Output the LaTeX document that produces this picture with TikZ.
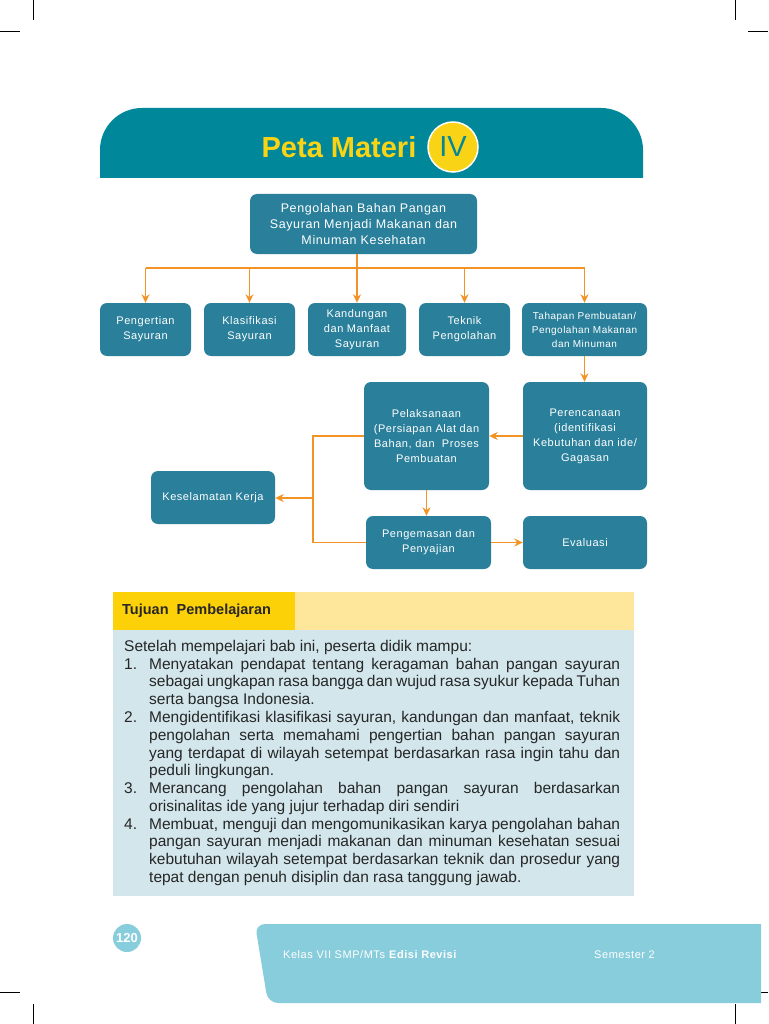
\documentclass[tikz,border=0pt]{standalone}
\usepackage{fontspec}
\setmainfont{Liberation Sans}
\newfontfamily\petafont[LetterSpace=5]{Liberation Sans}
\usetikzlibrary{arrows.meta,calc}
\definecolor{tealjudul}{HTML}{00889A}
\definecolor{tealkotak}{HTML}{2A809B}
\definecolor{oranye}{HTML}{F39325}
\definecolor{kuning}{HTML}{F9D316}
\definecolor{kuningtua}{HTML}{FDD107}
\definecolor{kuningmuda}{HTML}{FEE79B}
\definecolor{birumuda}{HTML}{D2E6EC}
\definecolor{birukaki}{HTML}{88CDDC}
\definecolor{teksisi}{HTML}{262626}
\newcommand{\butir}[1]{\noindent\hangindent=25pt\hangafter=1\makebox[25pt][l]{#1}}

\begin{document}
\begin{tikzpicture}[x=1pt, y=-1pt, >={Stealth[length=8.5pt,width=8pt]},
  every node/.style={inner sep=0pt},
  kotak/.style={fill=tealkotak, rounded corners=7pt, text=white, align=center,
    font=\petafont\fontsize{11}{15}\selectfont},
  garis/.style={draw=oranye, line width=1.6pt},
  panah/.style={garis, ->}]
\fill[white] (0,0) rectangle (768,1024);
\useasboundingbox (0,0) rectangle (768,1024);
\foreach \x in {33,735} {\draw[line width=1pt] (\x,0) -- (\x,20); \draw[line width=1pt] (\x,1004) -- (\x,1024);}
\foreach \y in {32,992} {\draw[line width=1pt] (0,\y) -- (20,\y); \draw[line width=1pt] (748,\y) -- (768,\y);}

\begin{scope}
\clip (90,100) rectangle (660,178);
\fill[tealjudul, rounded corners=42pt] (100,108) rectangle (643,260);
\end{scope}
\node[text=kuning, font=\bfseries\fontsize{29}{32}\selectfont] (judul) at (339,147) {Peta Materi};
\node[circle, fill=kuning, draw=white, line width=1.5pt, minimum size=50pt,
  text=tealjudul, font=\fontsize{29}{32}\selectfont] (bab) at (453,147) {IV};

\node[kotak, minimum width=227pt, minimum height=60pt, font=\petafont\fontsize{12.5}{16}\selectfont]
  (utama) at (363.5,224) {Pengolahan Bahan Pangan\\Sayuran Menjadi Makanan dan\\Minuman Kesehatan};
\node[kotak, minimum width=91pt, minimum height=53pt] (pengertian) at (145.5,329.5) {Pengertian\\Sayuran};
\node[kotak, minimum width=91pt, minimum height=53pt] (klasifikasi) at (249.5,329.5) {Klasifikasi\\Sayuran};
\node[kotak, minimum width=98pt, minimum height=53pt] (kandungan) at (357,329.5) {Kandungan\\dan Manfaat\\Sayuran};
\node[kotak, minimum width=91pt, minimum height=53pt] (teknik) at (464.5,329.5) {Teknik\\Pengolahan};
\node[kotak, minimum width=125pt, minimum height=53pt, font=\petafont\fontsize{10}{14}\selectfont]
  (tahapan) at (584.5,329.5) {Tahapan Pembuatan/\\Pengolahan Makanan\\dan Minuman};
\node[kotak, minimum width=124pt, minimum height=108pt] (perencanaan) at (585,436)
  {Perencanaan\\(identifikasi\\Kebutuhan dan ide/\\Gagasan};
\node[kotak, minimum width=125pt, minimum height=108pt] (pelaksanaan) at (426.5,436)
  {Pelaksanaan\\(Persiapan Alat dan\\Bahan, dan\ \ Proses\\Pembuatan};
\node[kotak, minimum width=125pt, minimum height=53pt] (pengemasan) at (428.5,542.5) {Pengemasan dan\\Penyajian};
\node[kotak, minimum width=124pt, minimum height=53pt] (evaluasi) at (585,542.5) {Evaluasi};
\node[kotak, minimum width=124pt, minimum height=53pt] (keselamatan) at (213,497.5) {Keselamatan Kerja};

\coordinate (rel) at (357,268);
\coordinate (siku) at (313,498);
\draw[garis] (rel -| pengertian.north) -- (rel -| tahapan.north);
\draw[panah] (utama.south -| kandungan.north) -- (kandungan.north);
\foreach \n in {pengertian,klasifikasi,teknik,tahapan} \draw[panah] (rel -| \n.north) -- (\n.north);
\draw[panah] (tahapan.south) -- (tahapan.south |- perencanaan.north);
\draw[panah] (perencanaan.west) -- (perencanaan.west -| pelaksanaan.east);
\draw[panah] (pelaksanaan.south) -- (pelaksanaan.south |- pengemasan.north);
\draw[panah] (pengemasan.east) -- (pengemasan.east -| evaluasi.west);
\draw[garis] (pelaksanaan.west) -- (siku |- pelaksanaan.west) -- (siku |- pengemasan.west) -- (pengemasan.west);
\draw[panah] (siku) -- (siku -| keselamatan.east);

\fill[birumuda] (113,630) rectangle (634,896);
\fill[kuningmuda] (113,592) rectangle (634,630);
\fill[kuningtua] (113,592) rectangle (295,630);
\node[anchor=west, text=teksisi, font=\bfseries\fontsize{14.5}{17}\selectfont] (tujuan) at (122,611)
  {Tujuan\ \ Pembelajaran};
\node[anchor=north west, text width=496pt, align=justify, text=teksisi,
  font=\fontsize{15.5}{17.77}\selectfont] (isi) at (124,640)
  {\noindent Setelah mempelajari bab ini, peserta didik mampu:\par
  \butir{1.}Menyatakan pendapat tentang keragaman bahan pangan sayuran\linebreak
  sebagai ungkapan rasa bangga dan wujud rasa syukur kepada Tuhan\linebreak
  serta bangsa Indonesia.\par
  \butir{2.}Mengidentifikasi klasifikasi sayuran, kandungan dan manfaat, teknik\linebreak
  pengolahan serta memahami pengertian bahan pangan sayuran\linebreak
  yang terdapat di wilayah setempat berdasarkan rasa ingin tahu dan\linebreak
  peduli lingkungan.\par
  \butir{3.}Merancang pengolahan bahan pangan sayuran berdasarkan\linebreak
  orisinalitas ide yang jujur terhadap diri sendiri\par
  \butir{4.}Membuat, menguji dan mengomunikasikan karya pengolahan bahan\linebreak
  pangan sayuran menjadi makanan dan minuman kesehatan sesuai\linebreak
  kebutuhan wilayah setempat berdasarkan teknik dan prosedur yang\linebreak
  tepat dengan penuh disiplin dan rasa tanggung jawab.\par};

\fill[birukaki, rounded corners=10pt] (761,924) -- (255,924) -- (268,1003) -- (761,1003);
\node[circle, fill=birukaki, minimum size=28pt, text=white, font=\bfseries\fontsize{13}{15}\selectfont]
  (halaman) at (127,938) {120};
\node[anchor=west, text=white, font=\petafont\fontsize{11}{13}\selectfont] (kelas) at (283,955)
  {Kelas VII SMP/MTs \textbf{Edisi Revisi}};
\node[anchor=west, text=white, font=\petafont\fontsize{11}{13}\selectfont] (semester) at (594,955) {Semester 2};
\end{tikzpicture}
\end{document}
